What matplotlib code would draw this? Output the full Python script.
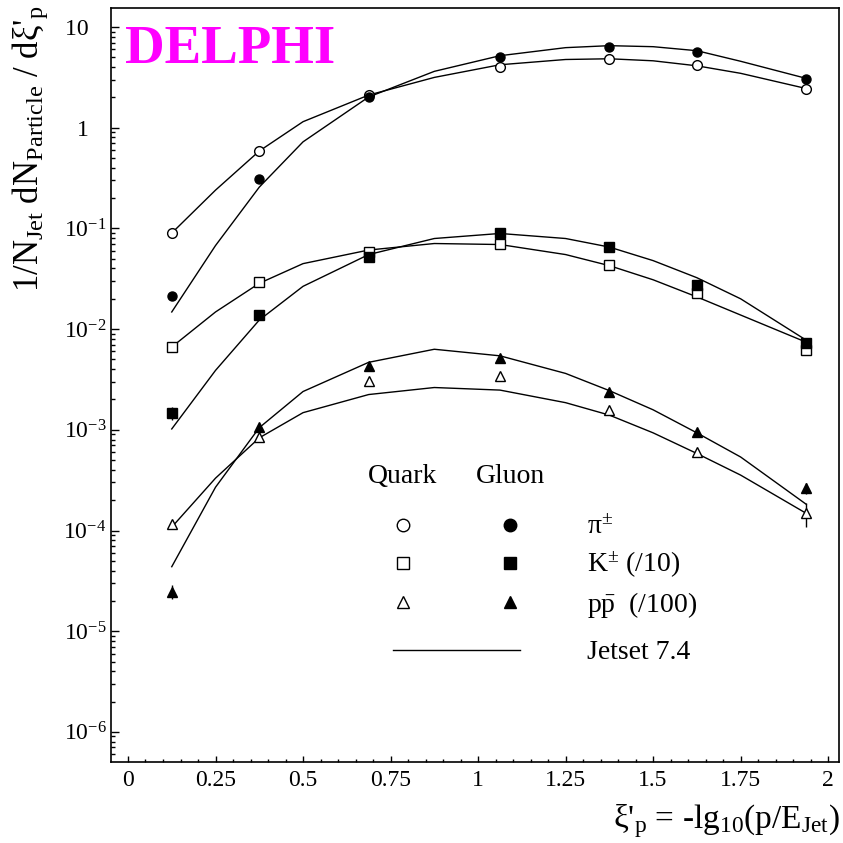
import matplotlib
matplotlib.use('Agg')
import matplotlib.pyplot as plt
from matplotlib.ticker import FixedLocator, FixedFormatter, MultipleLocator, LogLocator, NullFormatter
from matplotlib.legend_handler import HandlerTuple
from matplotlib.lines import Line2D

# measured points (xi'_p bin centres)
xi = [0.125, 0.375, 0.6875, 1.0625, 1.375, 1.625, 1.9375]

pi_quark = [0.0906, 0.588, 2.11, 4.03, 4.78, 4.17, 2.42]
pi_gluon = [0.0213, 0.310, 2.02, 5.00, 6.28, 5.69, 3.07]
k_quark = [6.68e-3, 0.0296, 0.0579, 0.0700, 0.0433, 0.0227, 6.20e-3]
k_gluon = [1.48e-3, 0.0138, 0.0516, 0.0894, 0.0649, 0.0274, 7.33e-3]
p_quark = [1.15e-4, 8.55e-4, 3.07e-3, 3.44e-3, 1.57e-3, 6.06e-4, 1.48e-4]
p_gluon = [2.47e-5, 1.07e-3, 4.30e-3, 5.20e-3, 2.39e-3, 9.57e-4, 2.62e-4]

# visible error bars (mostly hidden by markers)
k_gluon_err = [2.2e-4, 0, 0, 0, 0, 0, 0]
p_quark_err = [0, 0, 0, 0, 0, 0, 4.0e-5]
p_gluon_err = [4.0e-6, 0, 0, 0, 0, 0, 3.1e-5]

# Jetset 7.4 curves
curve_x = [0.125, 0.25, 0.375, 0.5, 0.6875, 0.875, 1.0625, 1.25, 1.375, 1.5, 1.625, 1.75, 1.9375]
jet_pi_quark = [0.0899, 0.240, 0.587, 1.148, 2.11, 3.16, 4.22, 4.76, 4.84, 4.62, 4.12, 3.47, 2.45]
jet_pi_gluon = [0.0148, 0.0676, 0.257, 0.724, 2.02, 3.63, 5.19, 6.24, 6.53, 6.38, 5.82, 4.57, 3.09]
jet_k_quark = [6.64e-3, 0.0148, 0.0285, 0.0447, 0.0610, 0.0708, 0.0692, 0.0550, 0.0427, 0.0309, 0.0209, 0.0138, 7.41e-3]
jet_k_gluon = [1.02e-3, 3.89e-3, 0.0123, 0.0266, 0.0550, 0.0794, 0.0891, 0.0794, 0.0653, 0.0479, 0.0324, 0.0200, 7.76e-3]
jet_p_quark = [1.08e-4, 3.31e-4, 8.32e-4, 1.48e-3, 2.24e-3, 2.63e-3, 2.48e-3, 1.86e-3, 1.40e-3, 9.33e-4, 5.82e-4, 3.55e-4, 1.48e-4]
jet_p_gluon = [4.37e-5, 2.69e-4, 1.05e-3, 2.40e-3, 4.68e-3, 6.31e-3, 5.43e-3, 3.63e-3, 2.45e-3, 1.58e-3, 9.33e-4, 5.37e-4, 1.82e-4]

x_ticks = [0, 0.25, 0.5, 0.75, 1, 1.25, 1.5, 1.75, 2]
x_labels = ['0', '0.25', '0.5', '0.75', '1', '1.25', '1.5', '1.75', '2']
y_ticks = [1e-6, 1e-5, 1e-4, 1e-3, 1e-2, 1e-1, 1, 10]
y_labels = ['$10^{-6}$', '$10^{-5}$', '$10^{-4}$', '$10^{-3}$', '$10^{-2}$', '$10^{-1}$', '1   ', '10   ']

plt.rcParams['font.family'] = ['Liberation Serif', 'DejaVu Serif']
plt.rcParams['mathtext.fontset'] = 'custom'
plt.rcParams['mathtext.rm'] = 'Liberation Serif'
plt.rcParams['mathtext.it'] = 'Liberation Serif:italic'
plt.rcParams['mathtext.bf'] = 'Liberation Serif:bold'

W = 843.0


def fx(px):
    return px / W


def fy(py):
    return 1 - py / W


fig = plt.figure(figsize=(8.43, 8.43), dpi=100)
ax = fig.add_axes([fx(110.7), fy(762), (839 - 110.7) / W, (762 - 8) / W])

ax.set_yscale('log')
ax.set_xlim(-0.0494, 2.031)
ax.set_ylim(10 ** -6.299, 10 ** 1.189)

# Jetset curves
for c in [jet_pi_quark, jet_pi_gluon, jet_k_quark, jet_k_gluon, jet_p_quark, jet_p_gluon]:
    ax.plot(curve_x, c, color='black', lw=1.0, zorder=2, solid_joinstyle='round')

open_kw = dict(mfc='white', mec='black', mew=1.0, color='black', ls='none', zorder=3)
full_kw = dict(mfc='black', mec='black', color='black', ls='none', zorder=3)

ax.plot(xi, pi_quark, marker='o', ms=7, **open_kw)
ax.plot(xi, pi_gluon, marker='o', ms=6.5, **full_kw)
ax.plot(xi, k_quark, marker='s', ms=6.5, **open_kw)
ax.errorbar(xi, k_gluon, yerr=k_gluon_err, fmt='s', ms=6.5, elinewidth=1, capsize=0, **full_kw)
ax.errorbar(xi, p_quark, yerr=p_quark_err, fmt='^', ms=7, elinewidth=1, capsize=0, **open_kw)
ax.errorbar(xi, p_gluon, yerr=p_gluon_err, fmt='^', ms=6.5, elinewidth=1, capsize=0, **full_kw)

# axes styling
for s in ax.spines.values():
    s.set_linewidth(1.2)
ax.xaxis.set_major_locator(FixedLocator(x_ticks))
ax.xaxis.set_major_formatter(FixedFormatter(x_labels))
ax.xaxis.set_minor_locator(MultipleLocator(0.05))
ax.yaxis.set_major_locator(FixedLocator(y_ticks))
ax.yaxis.set_major_formatter(FixedFormatter(y_labels))
ax.yaxis.set_minor_locator(LogLocator(base=10, subs=range(2, 10), numticks=20))
ax.yaxis.set_minor_formatter(NullFormatter())
ax.tick_params(which='both', direction='in', top=False, right=False, width=1.0, labelsize=17)
ax.tick_params(axis='x', which='major', length=4.5, pad=6)
ax.tick_params(axis='x', which='minor', length=2.5)
ax.tick_params(axis='y', which='major', length=6, pad=3)
ax.tick_params(axis='y', which='minor', length=3)

# titles
fig.text(fx(125), fy(63), 'DELPHI', color='#ff00ff', fontsize=39.5, fontweight='bold',
         ha='left', va='baseline')
fig.text(fx(840), fy(828), r"ξ'$_{\rm p}$ = -lg$_{\rm 10}$(p/E$_{\rm Jet}$)", fontsize=24,
         ha='right', va='baseline')
fig.text(fx(30), fy(6), r"1/N$_{\rm Jet}$ dN$_{\rm Particle}$ / dξ'$_{\rm p}$", fontsize=25,
         rotation=90, ha='center', va='top')

# legend
fig.text(fx(368), fy(483), 'Quark', fontsize=20, ha='left', va='baseline')
fig.text(fx(476), fy(483), 'Gluon', fontsize=20, ha='left', va='baseline')
h_pi = (Line2D([], [], marker='o', ms=9, **open_kw), Line2D([], [], marker='o', ms=9, **full_kw))
h_k = (Line2D([], [], marker='s', ms=9, **open_kw), Line2D([], [], marker='s', ms=9, **full_kw))
h_p = (Line2D([], [], marker='^', ms=9, **open_kw), Line2D([], [], marker='^', ms=9, **full_kw))
h_line = Line2D([], [], color='black', lw=1.0)
leg_kw = dict(loc='upper left', bbox_transform=fig.transFigure, frameon=False, fontsize=20,
              handlelength=4.57, handletextpad=2.4, borderpad=0, borderaxespad=0)
leg1 = ax.legend([h_pi, h_k, h_p],
                 [r'π$^{\pm}$', r'K$^{\pm}$ (/10)', r'p$\bar{\rm p}$  (/100)'],
                 handler_map={tuple: HandlerTuple(ndivide=None, pad=3.2)},
                 bbox_to_anchor=(fx(393), fy(515)), labelspacing=0.35, **leg_kw)
ax.add_artist(leg1)
ax.legend([h_line], ['Jetset 7.4'], bbox_to_anchor=(fx(393), fy(640)), **leg_kw)

fig.savefig('out.png', dpi=100)
